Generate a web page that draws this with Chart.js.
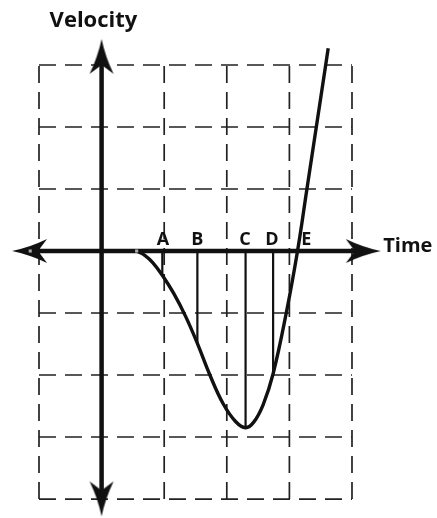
<!DOCTYPE html>
<html><head><meta charset="utf-8">
<script src="https://cdn.jsdelivr.net/npm/chart.js@4.4.0/dist/chart.umd.min.js"></script>
<style>html,body{margin:0;padding:0;background:#fff;overflow:hidden}canvas{display:block}</style>
</head><body>
<canvas id="c" width="437" height="518"></canvas>
<script>
// ---- data (time and velocity measured in grid squares) ----
const curveTime     = [0.56, 0.69, 0.82, 0.97, 1.15, 1.34, 1.53, 1.73, 1.94, 2.14, 2.30, 2.43, 2.58, 2.74, 2.95, 3.13, 3.28, 3.43, 3.58, 3.62];
const curveVelocity = [0.00, -0.07, -0.19, -0.39, -0.68, -1.05, -1.49, -2.00, -2.46, -2.75, -2.85, -2.76, -2.48, -1.98, -1.00, 0.00, 1.00, 2.00, 3.00, 3.27];
const markLabels    = ['A', 'B', 'C', 'D', 'E'];
const markLabelTime = [0.98, 1.53, 2.29, 2.72, 3.27];
const dropTime      = [0.97, 1.53, 2.30, 2.74];
const dropVelocity  = [-0.39, -1.49, -2.85, -1.98];
const gridTime      = [-1, 0, 1, 2, 3, 4];
const gridVelocity  = [-4, -3, -2, -1, 0, 1, 2, 3];
const axisTimeTips     = [-1.43, 4.46];
const axisVelocityTips = [-4.28, 3.42];
const viewTime     = [-1.623, 5.358];
const viewVelocity = [-4.306, 4.048];
const xAxisTitle = 'Time';
const yAxisTitle = 'Velocity';

function makeArrow(len, half, notch) {
  const c = document.createElement('canvas');
  c.width = len * 2 + 2; c.height = half * 2 + 2;
  const g = c.getContext('2d');
  const cx = c.width / 2, cy = c.height / 2;
  g.fillStyle = '#111';
  g.beginPath();
  g.moveTo(cx, cy);
  g.quadraticCurveTo(cx - len * 0.5, cy - half * 0.3, cx - len, cy - half);
  g.lineTo(cx - len + notch, cy);
  g.lineTo(cx - len, cy + half);
  g.quadraticCurveTo(cx - len * 0.5, cy + half * 0.3, cx, cy);
  g.closePath(); g.fill();
  return c;
}
const arrow = makeArrow(35, 12, 9);

const datasets = [];
// arrows at the axis tips
datasets.push({
  data: [{x: axisTimeTips[1], y: 0}, {x: axisTimeTips[0], y: 0}, {x: 0, y: axisVelocityTips[1]}, {x: 0, y: axisVelocityTips[0]}],
  showLine: false, pointStyle: arrow, pointRotation: [0, 180, -90, 90], pointRadius: 10, order: 1
});
// curve
datasets.push({
  data: curveTime.map((t, i) => ({x: t, y: curveVelocity[i]})),
  showLine: true, borderColor: '#111', borderWidth: 3.4, pointRadius: 0,
  tension: 0.4, order: 3
});
// drops from the time axis to the curve
dropTime.forEach((t, i) => datasets.push({
  data: [{x: t, y: 0}, {x: t, y: dropVelocity[i]}],
  showLine: true, borderColor: '#111', borderWidth: 2.2, pointRadius: 0, order: 4
}));
// axes
const inset = 0.3;
datasets.push({
  data: [{x: axisTimeTips[0] + inset, y: 0}, {x: axisTimeTips[1] - inset, y: 0}],
  showLine: true, borderColor: '#111', borderWidth: 4.5, pointRadius: 0, order: 5
});
datasets.push({
  data: [{x: 0, y: axisVelocityTips[0] + inset}, {x: 0, y: axisVelocityTips[1] - inset}],
  showLine: true, borderColor: '#111', borderWidth: 4.5, pointRadius: 0, order: 5
});
// small grey scan marks
datasets.push({
  data: [{x: curveTime[0], y: 0}, {x: -1.14, y: 0}],
  showLine: false, pointStyle: 'rect', pointRadius: 2.2, backgroundColor: '#aaa', borderColor: '#aaa', borderWidth: 0, order: 0
});
// dashed grid
gridTime.forEach(t => datasets.push({
  data: [{x: t, y: gridVelocity[0]}, {x: t, y: gridVelocity[gridVelocity.length - 1]}],
  showLine: true, borderColor: '#222', borderWidth: 1.7, borderDash: [17, 9], pointRadius: 0, order: 10
}));
gridVelocity.forEach(v => datasets.push({
  data: [{x: gridTime[0], y: v}, {x: gridTime[gridTime.length - 1], y: v}],
  showLine: true, borderColor: '#222', borderWidth: 1.7, borderDash: [17, 9], pointRadius: 0, order: 10
}));

const textPlugin = {
  id: 'texts',
  afterDatasetsDraw(chart) {
    const {ctx, scales: {x, y}} = chart;
    const y0 = y.getPixelForValue(0);
    ctx.save();
    ctx.fillStyle = '#111';
    ctx.textBaseline = 'alphabetic';
    ctx.textAlign = 'center';
    ctx.font = 'bold 18px "Open Sans"';
    markLabels.forEach((l, i) => ctx.fillText(l, x.getPixelForValue(markLabelTime[i]), y0 - 6));
    ctx.font = 'bold 22px "Open Sans"';
    ctx.fillText(yAxisTitle, x.getPixelForValue(-0.13), y.getPixelForValue(3.62));
    ctx.font = 'bold 20px "Open Sans"';
    ctx.textAlign = 'left';
    ctx.fillText(xAxisTitle, x.getPixelForValue(4.5), y0 + 1);
    ctx.restore();
  }
};

new Chart(document.getElementById('c'), {
  type: 'scatter',
  data: {datasets},
  options: {
    responsive: false, animation: false, devicePixelRatio: 1,
    layout: {padding: 0, autoPadding: false},
    scales: {
      x: {type: 'linear', min: viewTime[0], max: viewTime[1], display: false},
      y: {type: 'linear', min: viewVelocity[0], max: viewVelocity[1], display: false}
    },
    plugins: {legend: {display: false}, tooltip: {enabled: false}},
    events: []
  },
  plugins: [textPlugin]
});
</script>
</body></html>
